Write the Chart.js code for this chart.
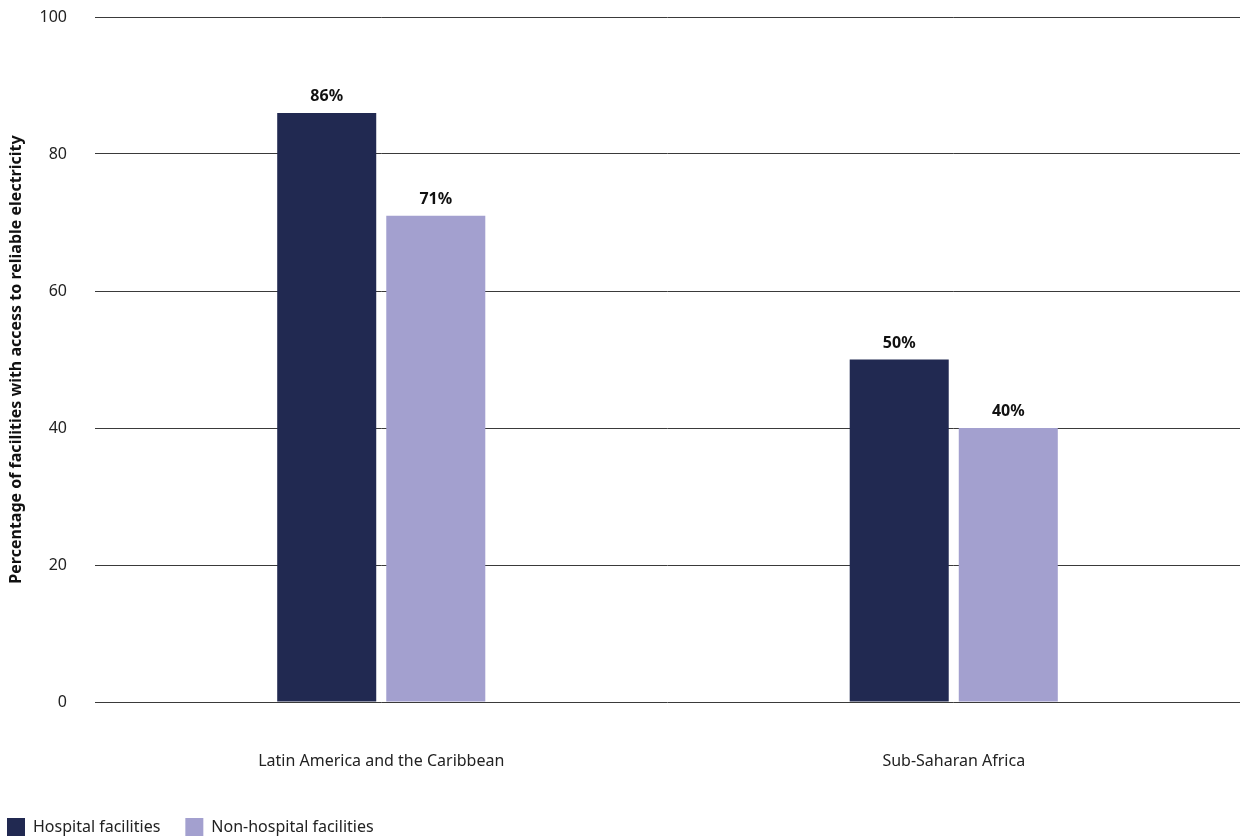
<!DOCTYPE html>
<html>
<head>
<meta charset="utf-8">
<script src="https://cdn.jsdelivr.net/npm/chart.js@4"></script>
<style>
html,body{margin:0;padding:0;background:#fff;}
#wrap{width:1246px;height:838px;position:relative;}
</style>
</head>
<body>
<div id="wrap"><canvas id="c" width="1246" height="838"></canvas></div>
<script>
const categories = ["Latin America and the Caribbean", "Sub-Saharan Africa"];
const hospital = [86, 50];
const nonHospital = [71, 40];
const seriesNames = ["Hospital facilities", "Non-hospital facilities"];
const yTicks = [0, 20, 40, 60, 80, 100];
const yTitle = "Percentage of facilities with access to reliable electricity";

const FONT = "'Noto Sans', 'Open Sans', sans-serif";

const labelPlugin = {
  id: 'barLabels',
  afterDatasetsDraw(chart) {
    const ctx = chart.ctx;
    ctx.save();
    ctx.font = "bold 16px " + FONT;
    ctx.fillStyle = "#111";
    ctx.textAlign = "center";
    ctx.textBaseline = "alphabetic";
    chart.data.datasets.forEach((ds, i) => {
      const meta = chart.getDatasetMeta(i);
      meta.data.forEach((el, j) => {
        ctx.fillText(ds.data[j] + "%", el.x, el.y - 12);
      });
    });
    ctx.restore();
  }
};

new Chart(document.getElementById('c'), {
  type: 'bar',
  data: {
    labels: categories,
    datasets: [
      { label: seriesNames[0], data: hospital, backgroundColor: '#212951', categoryPercentage: 0.381, barPercentage: 0.908 },
      { label: seriesNames[1], data: nonHospital, backgroundColor: '#a3a0cf', categoryPercentage: 0.381, barPercentage: 0.908 }
    ]
  },
  options: {
    responsive: false,
    animation: false,
    devicePixelRatio: 1,
    layout: { padding: { left: -18, right: 6, top: 17, bottom: -8 } },
    plugins: {
      legend: {
        position: 'bottom',
        align: 'start',
        labels: {
          boxWidth: 18, boxHeight: 18, padding: 25,
          color: '#222',
          font: { family: FONT, size: 16 }
        }
      },
      tooltip: { enabled: false }
    },
    scales: {
      x: {
        grid: { display: false, drawTicks: false },
        border: { display: false },
        ticks: { color: '#222', padding: 50, font: { family: FONT, size: 16 } },
        afterFit(axis) { axis.height = 91; }
      },
      y: {
        min: 0, max: 100,
        afterBuildTicks(axis) { axis.ticks = yTicks.map(v => ({ value: v })); },
        afterFit(axis) { axis.width = 113; axis.paddingTop = 0; axis.paddingBottom = 0; },
        grid: { color: '#3a3a3a', lineWidth: 1, drawTicks: false },
        border: { display: false },
        ticks: { color: '#222', padding: 28, font: { family: FONT, size: 16 } },
        title: {
          display: true, text: yTitle, color: '#111',
          font: { family: FONT, size: 16, weight: 'bold' },
          padding: { top: 25, bottom: 0 }
        }
      }
    }
  },
  plugins: [labelPlugin]
});
</script>
</body>
</html>
